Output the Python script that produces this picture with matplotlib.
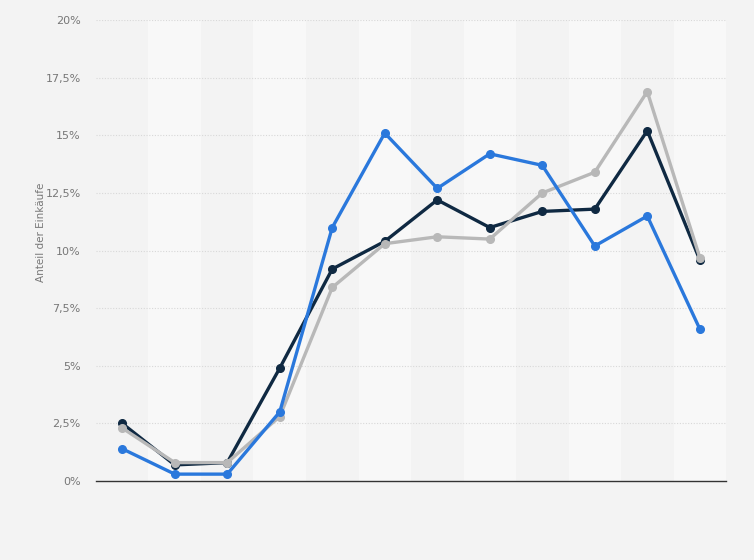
import numpy as np
import matplotlib.pyplot as plt
from matplotlib.ticker import FuncFormatter

# Werte (in %)
kategorien = list(range(12))
serie_blau = [1.4, 0.3, 0.3, 3.0, 11.0, 15.1, 12.7, 14.2, 13.7, 10.2, 11.5, 6.6]
serie_dunkel = [2.5, 0.7, 0.8, 4.9, 9.2, 10.4, 12.2, 11.0, 11.7, 11.8, 15.2, 9.6]
serie_grau = [2.3, 0.8, 0.8, 2.8, 8.4, 10.3, 10.6, 10.5, 12.5, 13.4, 16.9, 9.7]
y_ticks = [0, 2.5, 5, 7.5, 10, 12.5, 15, 17.5, 20]

fig = plt.figure(figsize=(7.54, 5.6), dpi=100, facecolor='#f3f3f3')
ax = fig.add_axes([0.1273, 0.141, 0.8356, 0.823])
ax.set_facecolor('#f3f3f3')

# abwechselnde Hintergrundstreifen
for i in kategorien:
    if i % 2 == 1:
        ax.axvspan(i - 0.5, i + 0.5, color='#f8f8f8', zorder=0, lw=0)

# Gitterlinien
for t in y_ticks[1:]:
    ax.axhline(t, color='#d8d8d8', lw=0.8, ls=(0, (1, 1.5)), zorder=1)

ax.plot(kategorien, serie_dunkel, color='#0f2942', lw=2.4, marker='o', ms=5.5, zorder=3)
ax.plot(kategorien, serie_grau, color='#b8b8b8', lw=2.4, marker='o', ms=5.5, zorder=4)
ax.plot(kategorien, serie_blau, color='#2a78dc', lw=2.4, marker='o', ms=5.5, zorder=5)

ax.set_xlim(-0.5, 11.5)
ax.set_ylim(0, 20)
ax.set_yticks(y_ticks)
ax.yaxis.set_major_formatter(FuncFormatter(
    lambda v, p: (f"{v:g}".replace('.', ',')) + '%'))
ax.set_xticks([])
ax.tick_params(axis='y', length=0, pad=11, labelsize=8, labelcolor='#777777')

for s in ['top', 'right', 'left']:
    ax.spines[s].set_visible(False)
ax.spines['bottom'].set_color('#333333')
ax.spines['bottom'].set_linewidth(1.0)
ax.spines['bottom'].set_zorder(6)

ax.set_ylabel('Anteil der Einkäufe', fontsize=7.5, color='#777777')
ax.yaxis.set_label_coords(-0.08, 0.54)

fig.savefig('out.png', dpi=100, facecolor=fig.get_facecolor())
